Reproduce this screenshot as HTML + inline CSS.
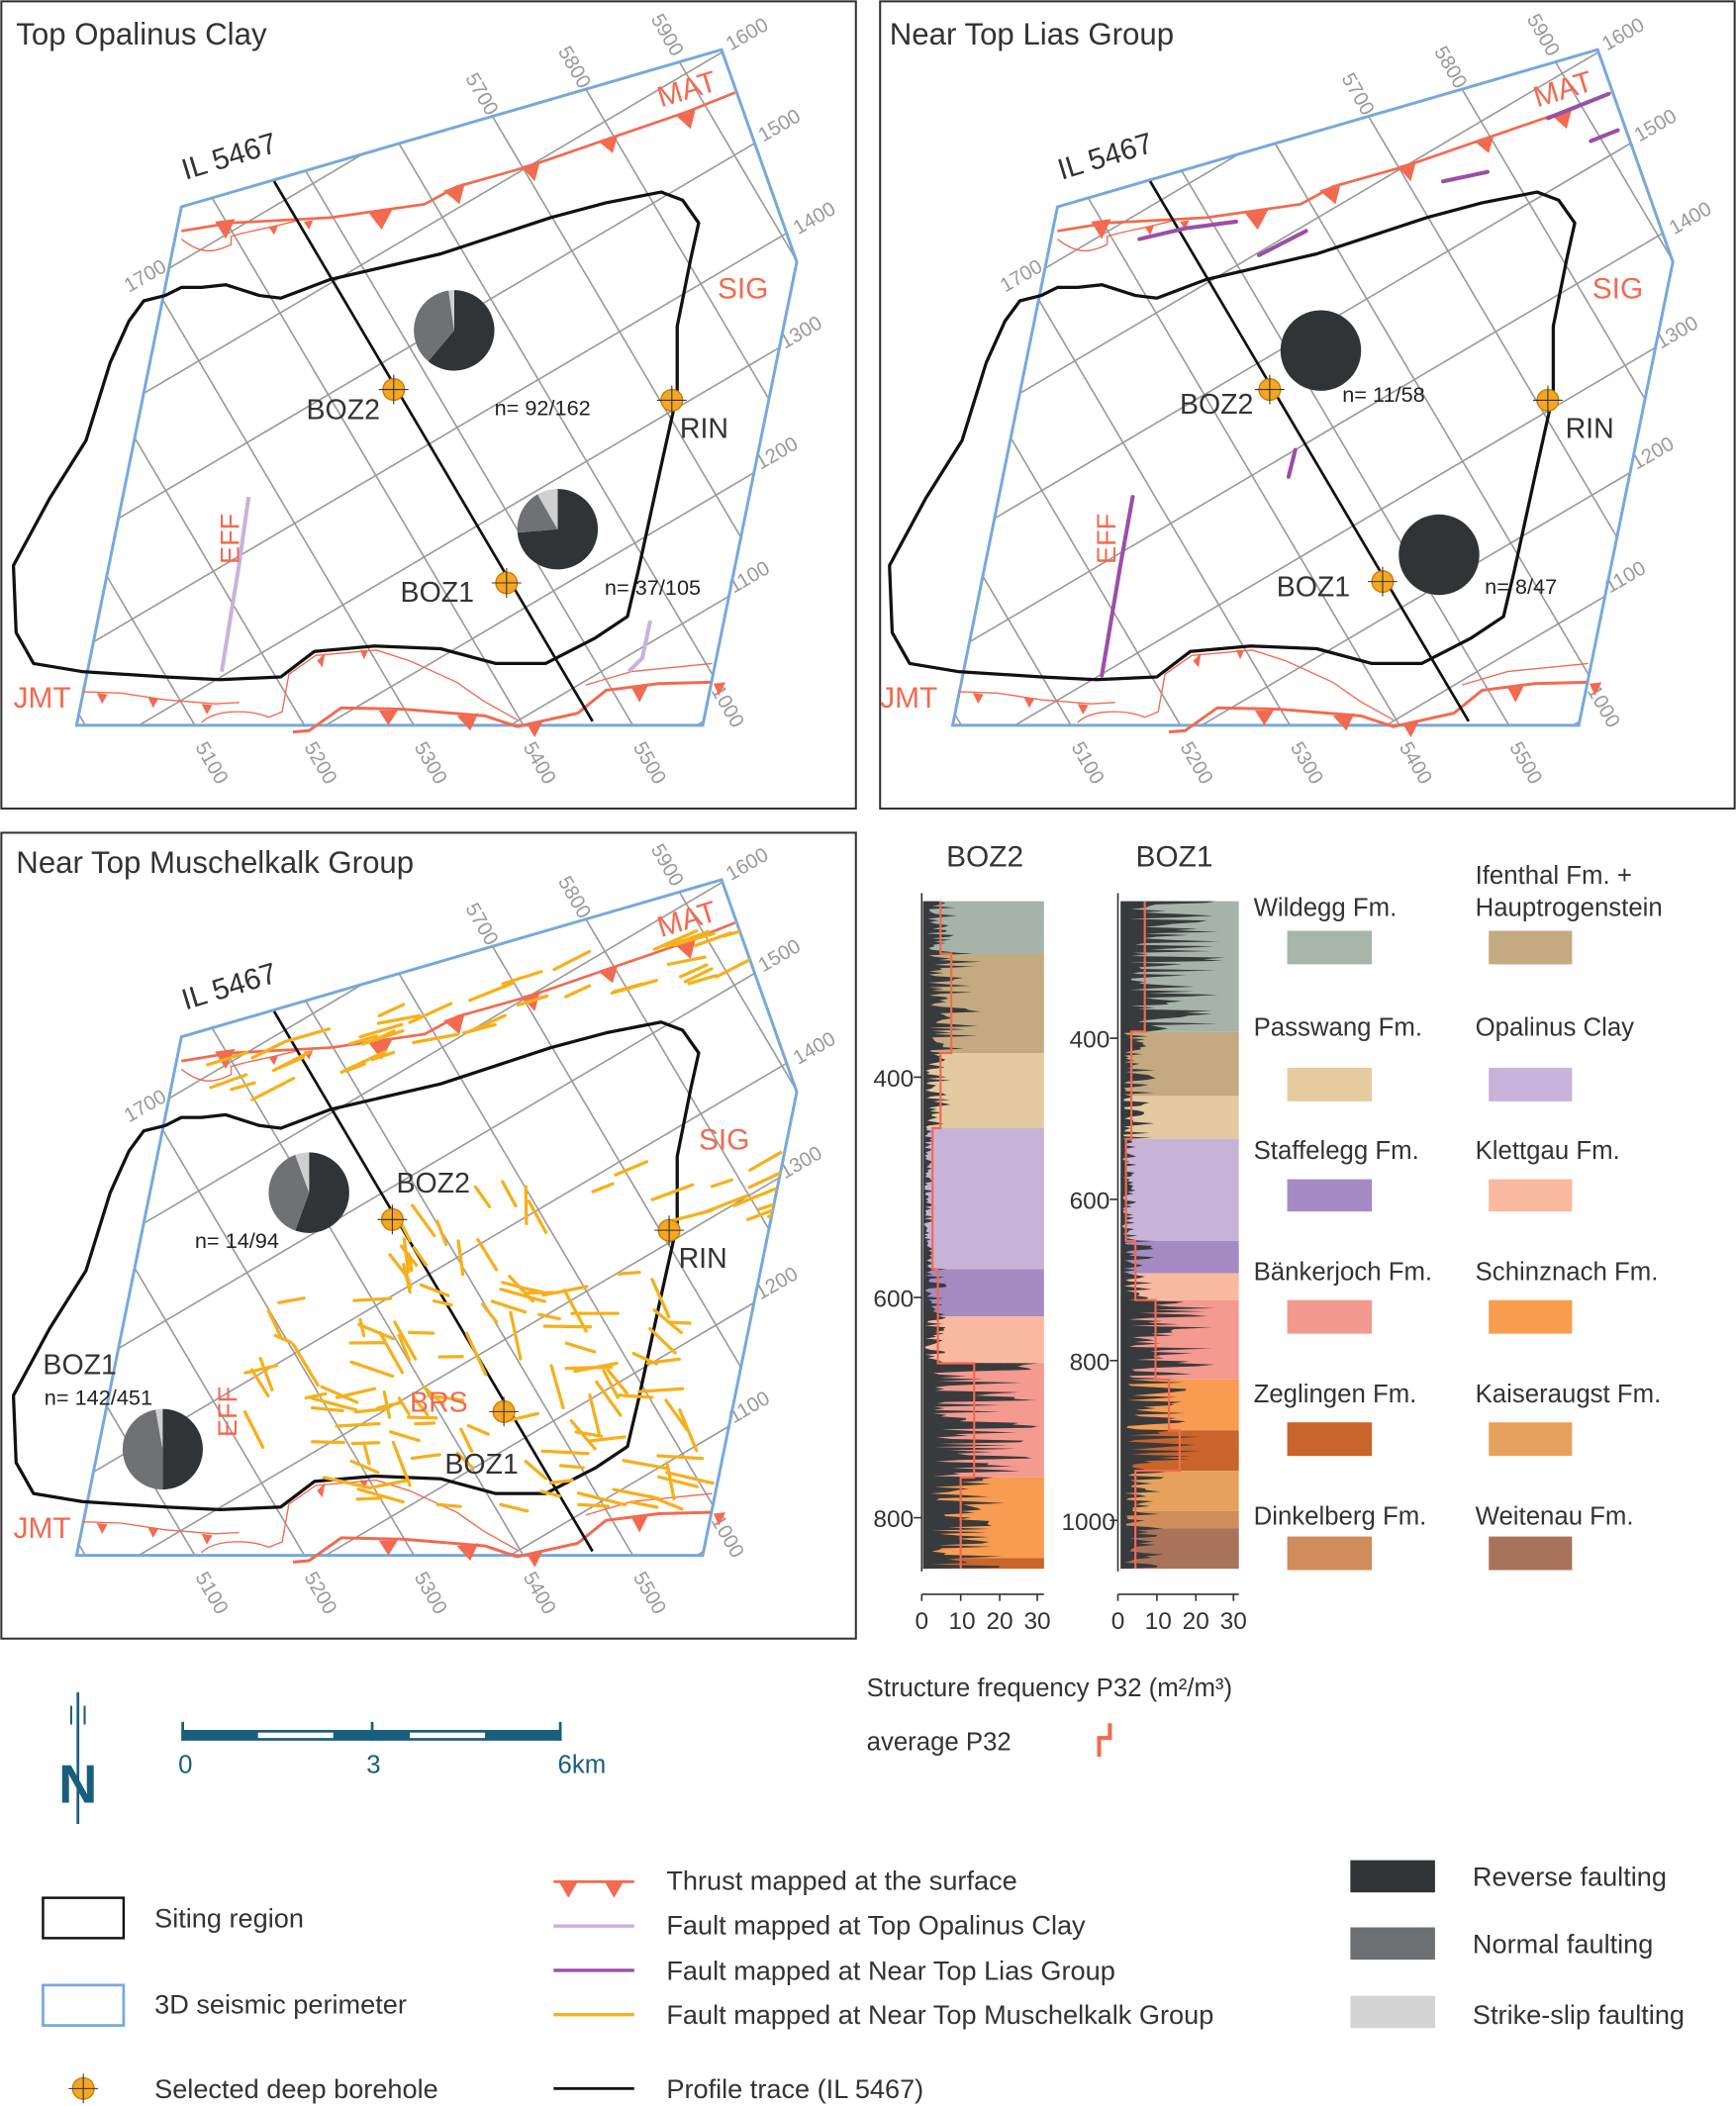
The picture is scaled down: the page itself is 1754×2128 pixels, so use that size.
<!DOCTYPE html>
<html><head><meta charset="utf-8">
<style>
html,body{margin:0;padding:0;background:#fff;}
svg{display:block;}
text{font-family:"Liberation Sans",sans-serif;}
</style></head>
<body>
<svg id="s" xmlns="http://www.w3.org/2000/svg" width="1754" height="2128" viewBox="0 0 1292 1568" preserveAspectRatio="none">
<defs>
<clipPath id="perim"><polygon points="135,154 537,37 593,195 523,540 57,540"/></clipPath>
<g id="map">
  <g clip-path="url(#perim)" stroke="#9a9a9a" stroke-width="1.2" fill="none">
    <line x1="-499.6" y1="0" x2="-145.6" y2="600"/>
    <line x1="-418.1" y1="0" x2="-64.1" y2="600"/>
    <line x1="-336.6" y1="0" x2="17.4" y2="600"/>
    <line x1="-255.1" y1="0" x2="98.9" y2="600"/>
    <line x1="-173.6" y1="0" x2="180.4" y2="600"/>
    <line x1="-92.1" y1="0" x2="261.9" y2="600"/>
    <line x1="-10.6" y1="0" x2="343.4" y2="600"/>
    <line x1="70.9" y1="0" x2="424.9" y2="600"/>
    <line x1="152.4" y1="0" x2="506.4" y2="600"/>
    <line x1="233.9" y1="0" x2="587.9" y2="600"/>
    <line x1="315.4" y1="0" x2="669.4" y2="600"/>
    <line x1="396.9" y1="0" x2="750.9" y2="600"/>
    <line x1="478.4" y1="0" x2="832.4" y2="600"/>
    <line x1="559.9" y1="0" x2="913.9" y2="600"/>
    <line x1="0" y1="192" x2="650" y2="-191.5"/>
    <line x1="0" y1="274" x2="650" y2="-109.5"/>
    <line x1="0" y1="356" x2="650" y2="-27.5"/>
    <line x1="0" y1="438" x2="650" y2="54.5"/>
    <line x1="0" y1="519" x2="650" y2="135.5"/>
    <line x1="0" y1="601" x2="650" y2="217.5"/>
    <line x1="0" y1="683" x2="650" y2="299.5"/>
    <line x1="0" y1="764" x2="650" y2="380.5"/>
    <line x1="0" y1="846" x2="650" y2="462.5"/>
    <line x1="0" y1="928" x2="650" y2="544.5"/>
  </g>
  <g font-size="15" fill="#9a9a9a">
    <text transform="translate(145,556) rotate(60)">5100</text>
    <text transform="translate(226,556) rotate(60)">5200</text>
    <text transform="translate(308,556) rotate(60)">5300</text>
    <text transform="translate(389,556) rotate(60)">5400</text>
    <text transform="translate(471,556) rotate(60)">5500</text>
    <text transform="translate(529,514) rotate(60)">1000</text>
    <text transform="translate(346,58) rotate(60)">5700</text>
    <text transform="translate(415,38) rotate(60)">5800</text>
    <text transform="translate(484,14) rotate(60)">5900</text>
    <text transform="translate(544,38) rotate(-30)">1600</text>
    <text transform="translate(568,106) rotate(-30)">1500</text>
    <text transform="translate(594,175) rotate(-30)">1400</text>
    <text transform="translate(584,260) rotate(-30)">1300</text>
    <text transform="translate(566,350) rotate(-30)">1200</text>
    <text transform="translate(546,442) rotate(-30)">1100</text>
    <text transform="translate(96,218) rotate(-30)">1700</text>
  </g>
  <polygon points="135,154 537,37 593,195 523,540 57,540" fill="none" stroke="#78a8db" stroke-width="2.2"/>
  <path d="M135,172 L172,166 L246,162 L316,152 L340,139 L393,124 L451,104 L512,83 L547,69" fill="none" stroke="#f26a50" stroke-width="2"/>
  <path d="M135,178 C150,190 160,188 172,182 L172,176 C185,172 200,170 222,164" fill="none" stroke="#f26a50" stroke-width="1"/>
  <g fill="#f26a50">
    <polygon points="160,165 175,163 168,178"/>
    <polygon points="274,158 292,156 284,171"/>
    <polygon points="330,142 346,136 342,152"/>
    <polygon points="388,124 402,120 398,135"/>
    <polygon points="445,105 460,100 456,114"/>
    <polygon points="503,86 518,80 514,96"/>
    <polygon points="200,169 207,168 204,175"/>
    <polygon points="226,165 233,164 230,171"/>
  </g>
  <path d="M61,515 L90,516 L123,521 L160,524 L178,523" fill="none" stroke="#f26a50" stroke-width="1"/>
  <path d="M150,538 C160,528 185,528 200,534 L210,530 L215,502 L235,488 L280,484 L305,492 L340,508 L360,522 L385,536" fill="none" stroke="#f26a50" stroke-width="1"/>
  <path d="M218,545 L230,544 L254,527 L300,528 L361,533 L385,541 L430,531 L451,514 L490,509 L529,508" fill="none" stroke="#f26a50" stroke-width="2.2"/>
  <path d="M436,510 L470,500 L530,494" fill="none" stroke="#f26a50" stroke-width="1"/>
  <g fill="#f26a50">
    <polygon points="72,516 80,517 76,524"/>
    <polygon points="110,519 118,520 114,527"/>
    <polygon points="150,524 158,525 154,532"/>
    <polygon points="236,492 242,486 240,497"/>
    <polygon points="268,484 274,484 271,491"/>
    <polygon points="282,529 296,529 289,540"/>
    <polygon points="340,533 356,531 350,544"/>
    <polygon points="392,539 404,537 398,549"/>
    <polygon points="470,512 482,511 476,523"/>
    <polygon points="531,509 540,508 535,518"/>
  </g>
  <path d="M209,222 L246,208 L328,189 L410,162 L451,151 L492,143 L508,149 L520,166 L514,193 L504,243 L504,293 L492,347 L475,425 L467,459 L443,475 L406,494 L369,494 L328,483 L279,481 L234,485 L209,504 L164,506 L123,504 L61,500 L25,494 L12,471 L10,421 L37,371 L64,328 L82,270 L96,239 L107,224 L123,220 L135,214 L150,214 L168,212 L193,220 Z" fill="none" stroke="#111" stroke-width="2.4" stroke-linejoin="round"/>
  <line x1="204" y1="135" x2="441" y2="537" stroke="#111" stroke-width="2"/>
  <text transform="translate(138,134) rotate(-17)" font-size="22" fill="#333">IL 5467</text>
  <text transform="translate(492,80) rotate(-17)" font-size="22" fill="#f26a50">MAT</text>
</g>
<g id="bh">
  <circle r="8" fill="#f5a623" stroke="#c77d00" stroke-width="1"/>
  <line x1="-11" y1="0" x2="11" y2="0" stroke="#333" stroke-width="0.8"/>
  <line x1="0" y1="-11" x2="0" y2="11" stroke="#333" stroke-width="0.8"/>
</g>
</defs>

<rect x="1" y="1" width="636" height="601" fill="none" stroke="#333" stroke-width="1.5"/>
<rect x="655" y="1" width="636" height="601" fill="none" stroke="#333" stroke-width="1.5"/>
<rect x="1" y="620" width="636" height="600" fill="none" stroke="#333" stroke-width="1.5"/>

<g>
  <use href="#map"/>
  <text x="12" y="33" font-size="23" fill="#333">Top Opalinus Clay</text>
  <path d="M185,370 L178,420 L165,500" fill="none" stroke="#c9b2dc" stroke-width="3"/>
  <path d="M484,462 L478,490 L468,500" fill="none" stroke="#c9b2dc" stroke-width="3"/>
  <text x="534" y="222" font-size="22" fill="#f26a50">SIG</text>
  <text x="10" y="527" font-size="22" fill="#f26a50">JMT</text>
  <text transform="translate(178,420) rotate(-90)" font-size="20" fill="#f26a50">EFF</text>
  <path d="M338,246 L338,216 A30,30 0 1 1 318.7,269 Z" fill="#313436"/>
  <path d="M338,246 L318.7,269 A30,30 0 0 1 333.8,216.3 Z" fill="#6f7174"/>
  <path d="M338,246 L333.8,216.3 A30,30 0 0 1 338,216 Z" fill="#d0d0d0"/>
  <path d="M415,394 L415,364 A30,30 0 1 1 385.1,396.6 Z" fill="#313436"/>
  <path d="M415,394 L385.1,396.6 A30,30 0 0 1 400,368 Z" fill="#6f7174"/>
  <path d="M415,394 L400,368 A30,30 0 0 1 415,364 Z" fill="#d0d0d0"/>
  <use href="#bh" x="293" y="290"/><use href="#bh" x="500" y="298"/><use href="#bh" x="377" y="434"/>
  <text x="228" y="312" font-size="21" fill="#333">BOZ2</text>
  <text x="506" y="326" font-size="21" fill="#333">RIN</text>
  <text x="298" y="448" font-size="21" fill="#333">BOZ1</text>
  <text x="368" y="309" font-size="16" fill="#222">n= 92/162</text>
  <text x="450" y="443" font-size="16" fill="#222">n= 37/105</text>
</g>

<g transform="translate(652,0)">
  <use href="#map"/>
  <text x="10" y="33" font-size="23" fill="#333">Near Top Lias Group</text>
  <g fill="none" stroke="#9b4fa6" stroke-width="3" stroke-linecap="round">
    <path d="M191,370 L182,420 L168,503"/>
    <path d="M196,178 L230,170 L268,165"/>
    <path d="M285,190 L320,172"/>
    <path d="M422,135 L455,128"/>
    <path d="M500,88 L520,80 L545,70"/>
    <path d="M532,105 L552,97"/>
    <path d="M307,355 L312,335"/>
  </g>
  <text x="533" y="222" font-size="22" fill="#f26a50">SIG</text>
  <text x="3" y="527" font-size="22" fill="#f26a50">JMT</text>
  <text transform="translate(178,420) rotate(-90)" font-size="20" fill="#f26a50">EFF</text>
  <circle cx="331" cy="261" r="30" fill="#313436"/>
  <circle cx="419" cy="413" r="30" fill="#313436"/>
  <use href="#bh" x="293" y="290"/><use href="#bh" x="500" y="298"/><use href="#bh" x="377" y="433"/>
  <text x="226" y="308" font-size="21" fill="#333">BOZ2</text>
  <text x="513" y="326" font-size="21" fill="#333">RIN</text>
  <text x="298" y="444" font-size="21" fill="#333">BOZ1</text>
  <text x="347" y="299" font-size="16" fill="#222">n= 11/58</text>
  <text x="453" y="442" font-size="16" fill="#222">n= 8/47</text>
</g>

<g transform="translate(0,618)">
  <use href="#map"/>
  <text x="12" y="32" font-size="23" fill="#333">Near Top Muschelkalk Group</text>
  <g id="yf" clip-path="url(#perim)" fill="none" stroke="#f5b01c" stroke-width="2.4" stroke-linecap="round"></g>
  <text x="520" y="238" font-size="22" fill="#f26a50">SIG</text>
  <text x="10" y="527" font-size="22" fill="#f26a50">JMT</text>
  <text x="305" y="433" font-size="21" fill="#f26a50">BRS</text>
  <text transform="translate(176,452) rotate(-90)" font-size="20" fill="#f26a50">EFF</text>
  <path d="M230,270 L230,240 A30,30 0 1 1 219.7,298.2 Z" fill="#313436"/>
  <path d="M230,270 L219.7,298.2 A30,30 0 0 1 219.7,241.8 Z" fill="#6f7174"/>
  <path d="M230,270 L219.7,241.8 A30,30 0 0 1 230,240 Z" fill="#d0d0d0"/>
  <path d="M121,461 L121,431 A30,30 0 0 1 121,491 Z" fill="#313436"/>
  <path d="M121,461 L121,491 A30,30 0 0 1 115.8,431.5 Z" fill="#6f7174"/>
  <path d="M121,461 L115.8,431.5 A30,30 0 0 1 121,431 Z" fill="#d0d0d0"/>
  <use href="#bh" x="292" y="290"/><use href="#bh" x="498" y="298"/><use href="#bh" x="375" y="433"/>
  <text x="295" y="270" font-size="21" fill="#333">BOZ2</text>
  <text x="505" y="326" font-size="21" fill="#333">RIN</text>
  <text x="331" y="479" font-size="21" fill="#333">BOZ1</text>
  <text x="32" y="405" font-size="21" fill="#333">BOZ1</text>
  <text x="145" y="311" font-size="16" fill="#222">n= 14/94</text>
  <text x="33" y="428" font-size="16" fill="#222">n= 142/451</text>
</g>

<text x="733" y="645" font-size="22" fill="#333" text-anchor="middle">BOZ2</text>
<text x="874" y="645" font-size="22" fill="#333" text-anchor="middle">BOZ1</text>
<g>
  <rect x="687" y="671" width="90" height="39" fill="#a5b3aa"/>
  <rect x="687" y="710" width="90" height="74" fill="#c4aa80"/>
  <rect x="687" y="784" width="90" height="56" fill="#e4caa0"/>
  <rect x="687" y="840" width="90" height="105" fill="#c7b3d8"/>
  <rect x="687" y="945" width="90" height="35" fill="#a48bc4"/>
  <rect x="687" y="980" width="90" height="35" fill="#f9b9a0"/>
  <rect x="687" y="1015" width="90" height="85" fill="#f49a90"/>
  <rect x="687" y="1100" width="90" height="60" fill="#f79c50"/>
  <rect x="687" y="1160" width="90" height="8" fill="#c8652a"/>
</g>
<g>
  <rect x="834" y="671" width="88" height="97" fill="#a5b3aa"/>
  <rect x="834" y="768" width="88" height="48" fill="#c4aa80"/>
  <rect x="834" y="816" width="88" height="32" fill="#e4caa0"/>
  <rect x="834" y="848" width="88" height="76" fill="#c7b3d8"/>
  <rect x="834" y="924" width="88" height="24" fill="#a48bc4"/>
  <rect x="834" y="948" width="88" height="20" fill="#f9b9a0"/>
  <rect x="834" y="968" width="88" height="59" fill="#f49a90"/>
  <rect x="834" y="1027" width="88" height="38" fill="#f79c50"/>
  <rect x="834" y="1065" width="88" height="30" fill="#c9642a"/>
  <rect x="834" y="1095" width="88" height="30" fill="#e6a25c"/>
  <rect x="834" y="1125" width="88" height="13" fill="#d08c5a"/>
  <rect x="834" y="1138" width="88" height="30" fill="#a8735a"/>
</g>
<polygon id="h1" fill="#383b3d"/>
<polygon id="h2" fill="#383b3d"/>
<path d="M700,671 V710 H708 V784 H700 V840 H694 V945 H698 V1015 H725 V1100 H715 V1168" fill="none" stroke="#f26a50" stroke-width="1.6"/>
<path d="M852,671 V768 H842 V848 H838 V924 H845 V968 H860 V1027 H870 V1065 H878 V1095 H845 V1168" fill="none" stroke="#f26a50" stroke-width="1.6"/>
<g stroke="#333" stroke-width="1.2">
  <line x1="686" y1="665" x2="686" y2="1170"/>
  <line x1="832" y1="665" x2="832" y2="1170"/>
  <line x1="680" y1="802" x2="686" y2="802"/><line x1="680" y1="966" x2="686" y2="966"/><line x1="680" y1="1130" x2="686" y2="1130"/>
  <line x1="826" y1="773" x2="832" y2="773"/><line x1="826" y1="893" x2="832" y2="893"/><line x1="826" y1="1013" x2="832" y2="1013"/><line x1="826" y1="1132" x2="832" y2="1132"/>
  <line x1="686" y1="1187" x2="777" y2="1187"/><line x1="832" y1="1187" x2="922" y2="1187"/>
  <line x1="686" y1="1187" x2="686" y2="1192"/><line x1="715" y1="1187" x2="715" y2="1192"/><line x1="744" y1="1187" x2="744" y2="1192"/><line x1="772" y1="1187" x2="772" y2="1192"/>
  <line x1="832" y1="1187" x2="832" y2="1192"/><line x1="861" y1="1187" x2="861" y2="1192"/><line x1="890" y1="1187" x2="890" y2="1192"/><line x1="918" y1="1187" x2="918" y2="1192"/>
</g>
<g font-size="18" fill="#333" text-anchor="end">
  <text x="680" y="809">400</text><text x="680" y="973">600</text><text x="680" y="1137">800</text>
  <text x="826" y="780">400</text><text x="826" y="900">600</text><text x="826" y="1020">800</text><text x="830" y="1139">1000</text>
</g>
<g font-size="18" fill="#333" text-anchor="middle">
  <text x="686" y="1213">0</text><text x="716" y="1213">10</text><text x="744" y="1213">20</text><text x="772" y="1213">30</text>
  <text x="832" y="1213">0</text><text x="862" y="1213">10</text><text x="890" y="1213">20</text><text x="918" y="1213">30</text>
</g>

<g font-size="19" fill="#333">
  <text x="933" y="682">Wildegg Fm.</text>
  <text x="933" y="771">Passwang Fm.</text>
  <text x="933" y="863">Staffelegg Fm.</text>
  <text x="933" y="953">Bänkerjoch Fm.</text>
  <text x="933" y="1044">Zeglingen Fm.</text>
  <text x="933" y="1135">Dinkelberg Fm.</text>
  <text x="1098" y="658">Ifenthal Fm. +</text>
  <text x="1098" y="682">Hauptrogenstein</text>
  <text x="1098" y="771">Opalinus Clay</text>
  <text x="1098" y="863">Klettgau Fm.</text>
  <text x="1098" y="953">Schinznach Fm.</text>
  <text x="1098" y="1044">Kaiseraugst Fm.</text>
  <text x="1098" y="1135">Weitenau Fm.</text>
</g>
<rect x="958" y="693" width="63" height="25" fill="#a7b5ab"/>
<rect x="958" y="795" width="63" height="25" fill="#e5cba0"/>
<rect x="958" y="878" width="63" height="24" fill="#a58bc5"/>
<rect x="958" y="968" width="63" height="25" fill="#f4998f"/>
<rect x="958" y="1059" width="63" height="25" fill="#c9642a"/>
<rect x="958" y="1144" width="63" height="25" fill="#d08c5a"/>
<rect x="1108" y="693" width="62" height="25" fill="#c4aa80"/>
<rect x="1108" y="795" width="62" height="25" fill="#c8b4da"/>
<rect x="1108" y="878" width="62" height="24" fill="#fab89e"/>
<rect x="1108" y="968" width="62" height="25" fill="#f89c4e"/>
<rect x="1108" y="1059" width="62" height="25" fill="#e6a25c"/>
<rect x="1108" y="1144" width="62" height="25" fill="#a8735a"/>

<text x="645" y="1263" font-size="19" fill="#333">Structure frequency P32 (m²/m³)</text>
<text x="645" y="1303" font-size="19" fill="#333">average P32</text>
<path d="M826,1283 V1294 H818 V1308" fill="none" stroke="#f26a50" stroke-width="3"/>

<g stroke="#1a5e7e" fill="none">
  <line x1="58" y1="1260" x2="58" y2="1358" stroke-width="2"/>
  <line x1="53" y1="1270" x2="53" y2="1284" stroke-width="1.5"/>
  <line x1="63" y1="1270" x2="63" y2="1284" stroke-width="1.5"/>
</g>
<text x="58" y="1342" font-size="40" font-weight="bold" fill="#1a5e7e" text-anchor="middle">N</text>
<rect x="135" y="1288" width="283" height="8" fill="#1a5e7e"/>
<rect x="192" y="1290" width="56" height="4" fill="#fff"/>
<rect x="305" y="1290" width="56" height="4" fill="#fff"/>
<line x1="136" y1="1282" x2="136" y2="1296" stroke="#1a5e7e" stroke-width="2"/>
<line x1="277" y1="1282" x2="277" y2="1296" stroke="#1a5e7e" stroke-width="2"/>
<line x1="417" y1="1282" x2="417" y2="1296" stroke="#1a5e7e" stroke-width="2"/>
<g font-size="19" fill="#1a5e7e" text-anchor="middle">
  <text x="138" y="1320">0</text><text x="278" y="1320">3</text><text x="433" y="1320">6km</text>
</g>

<rect x="32" y="1413" width="60" height="30" fill="none" stroke="#111" stroke-width="1.8"/>
<text x="115" y="1435" font-size="20" fill="#333">Siting region</text>
<rect x="32" y="1478" width="60" height="30" fill="none" stroke="#78a8db" stroke-width="2"/>
<text x="115" y="1499" font-size="20" fill="#333">3D seismic perimeter</text>
<use href="#bh" x="62" y="1555"/>
<text x="115" y="1562" font-size="20" fill="#333">Selected deep borehole</text>

<line x1="412" y1="1401" x2="472" y2="1401" stroke="#f26a50" stroke-width="2"/>
<polygon points="416,1401 430,1401 423,1413" fill="#f26a50"/>
<polygon points="450,1401 464,1401 457,1413" fill="#f26a50"/>
<line x1="412" y1="1434" x2="472" y2="1434" stroke="#c9b2dc" stroke-width="2.5"/>
<line x1="412" y1="1467" x2="472" y2="1467" stroke="#9b4fa6" stroke-width="2.5"/>
<line x1="412" y1="1500" x2="472" y2="1500" stroke="#f5b01c" stroke-width="2.5"/>
<line x1="412" y1="1555" x2="472" y2="1555" stroke="#111" stroke-width="2"/>
<g font-size="20" fill="#333">
  <text x="496" y="1407">Thrust mapped at the surface</text>
  <text x="496" y="1440">Fault mapped at Top Opalinus Clay</text>
  <text x="496" y="1474">Fault mapped at Near Top Lias Group</text>
  <text x="496" y="1507">Fault mapped at Near Top Muschelkalk Group</text>
  <text x="496" y="1562">Profile trace (IL 5467)</text>
</g>
<rect x="1005" y="1385" width="63" height="24" fill="#313436"/>
<rect x="1005" y="1435" width="63" height="24" fill="#6d7073"/>
<rect x="1005" y="1486" width="63" height="24" fill="#d3d3d3"/>
<g font-size="20" fill="#333">
  <text x="1096" y="1404">Reverse faulting</text>
  <text x="1096" y="1454">Normal faulting</text>
  <text x="1096" y="1507">Strike-slip faulting</text>
</g>
</svg>
<script>
(function(){
  var seed=12345;function r(){seed=(seed*16807)%2147483647;return (seed-1)/2147483646;}
  var NS="http://www.w3.org/2000/svg";
  var g=document.getElementById("yf");
  function seg(x,y,len,ang){var l=document.createElementNS(NS,"line");var a=ang*Math.PI/180;
    l.setAttribute("x1",x.toFixed(1));l.setAttribute("y1",y.toFixed(1));
    l.setAttribute("x2",(x+len*Math.cos(a)).toFixed(1));l.setAttribute("y2",(y+len*Math.sin(a)).toFixed(1));g.appendChild(l);}
  var i,x,y;
  // band just below MAT
  for(i=0;i<38;i++){x=150+r()*390;var ym=172-0.28*(x-135);y=ym+6+r()*45;seg(x,y,14+r()*22,-28+r()*18);}
  // cluster south
  for(i=0;i<105;i++){x=180+r()*330;y=330+r()*175;if(y>480&&x<230)continue;seg(x,y,12+r()*24,(r()<0.6?(-15+r()*40):(40+r()*40)));}
  // centre
  for(i=0;i<16;i++){x=280+r()*130;y=250+r()*80;seg(x,y,12+r()*18,50+r()*40);}
  // SIG region
  for(i=0;i<12;i++){x=440+r()*140;y=245+r()*50;seg(x,y,15+r()*22,-30+r()*20);}
  function hist(id,x0,layers){var pts=[x0+","+layers[0][0]];var y;
    for(var k=0;k<layers.length;k++){var L=layers[k];for(y=L[0];y<L[1];y+=1.2){var w=L[2]*(0.15+Math.pow(r(),1.5)*1.6);if(w>88)w=88;pts.push((x0+w).toFixed(1)+","+y.toFixed(1));}}
    pts.push(x0+","+layers[layers.length-1][1]);document.getElementById(id).setAttribute("points",pts.join(" "));}
  hist("h1",687,[[671,710,15],[710,784,25],[784,840,12],[840,945,5],[945,1015,10],[1015,1100,50],[1100,1168,35]]);
  hist("h2",834,[[671,768,45],[768,848,15],[848,924,8],[924,968,15],[968,1027,40],[1027,1065,30],[1065,1095,35],[1095,1168,20]]);
})();
</script>
</body></html>
